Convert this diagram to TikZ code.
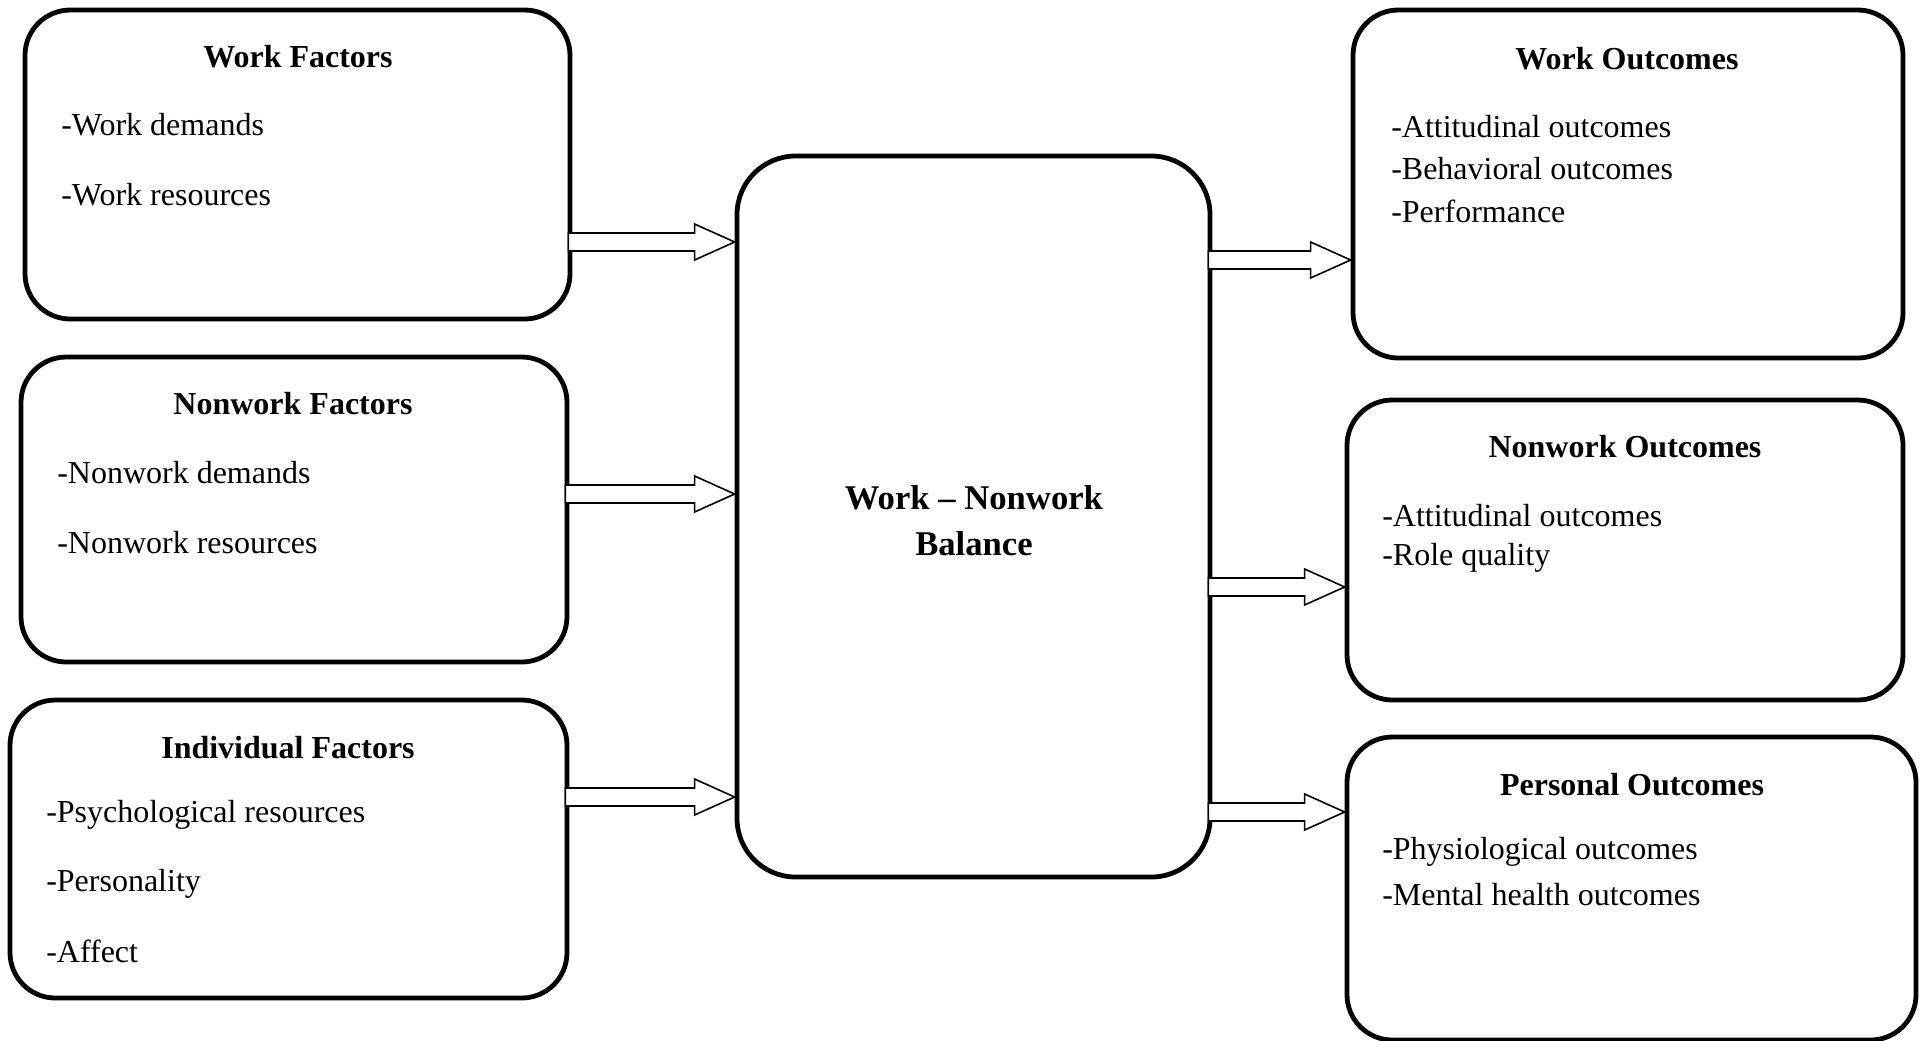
\documentclass[tikz,border=0pt]{standalone}
\usepackage{fontspec}
\setmainfont{Liberation Serif}
\usepackage{tikz}
\usetikzlibrary{calc, positioning}

\tikzset{
  factorbox/.style={draw, line width=3.6pt, rounded corners=34pt, fill=white},
  title/.style={font=\fontsize{24}{28}\selectfont\bfseries},
  item/.style={font=\fontsize{24}{28}\selectfont, anchor=west, inner sep=0pt},
  flow/.style={draw, line width=1.2pt, fill=white, line join=miter}
}

% hollow block arrow from box #1 to box #2 at height of coordinate #3
\newcommand{\flowarrow}[3]{%
  \draw[flow] let \p1=(#1.east |- #3), \p2=(#2.west |- #3) in
    (\x1-3pt,\y1+6.75pt) -- (\x2-30pt,\y1+6.75pt) -- (\x2-30pt,\y1+13.5pt) -- (\x2,\y1)
    -- (\x2-30pt,\y1-13.5pt) -- (\x2-30pt,\y1-6.75pt) -- (\x1-3pt,\y1-6.75pt) -- cycle;}

\begin{document}
\begin{tikzpicture}[x=0.75pt,y=-0.75pt]
   \useasboundingbox (0,0) rectangle (1923,1040);
   % factors
   \node[factorbox, minimum width=408.75pt, minimum height=231.75pt] (wf) at (297.5,164.5) {};
   \node[factorbox, minimum width=409.5pt, minimum height=228.75pt] (nf) at (294,509.5) {};
   \node[factorbox, minimum width=417.75pt, minimum height=223.5pt] (if) at (288.5,849) {};
   % balance
   \node[factorbox, rounded corners=44pt, minimum width=354.75pt, minimum height=540.75pt] (bal) at (973.5,516.5) {};
   % outcomes
   \node[factorbox, minimum width=412.5pt, minimum height=261pt] (wo) at (1628,184) {};
   \node[factorbox, minimum width=417pt, minimum height=225pt] (no) at (1625,550) {};
   \node[factorbox, minimum width=426.75pt, minimum height=227.25pt] (po) at (1631.5,888.5) {};

   \node[title] (wf_t) at (298,57) {Work Factors};
   \node[item] (wf_1) at (61,125) {-Work demands};
   \node[item] (wf_2) at (61,195) {-Work resources};

   \node[title] (nf_t) at (293,404) {Nonwork Factors};
   \node[item] (nf_1) at (57,473) {-Nonwork demands};
   \node[item] (nf_2) at (57,543) {-Nonwork resources};

   \node[title] (if_t) at (288,748) {Individual Factors};
   \node[item] (if_1) at (46,815) {-Psychological resources};
   \node[item] (if_2) at (46,884) {-Personality};
   \node[item] (if_3) at (46,951) {-Affect};

   \node[title, font=\fontsize{26}{34.5}\selectfont\bfseries, align=center] (bal_t) at (974,521) {Work -- Nonwork\\Balance};

   \node[title] (wo_t) at (1627,59) {Work Outcomes};
   \node[item] (wo_1) at (1391,127) {-Attitudinal outcomes};
   \node[item] (wo_2) at (1391,169) {-Behavioral outcomes};
   \node[item] (wo_3) at (1391,211) {-Performance};

   \node[title] (no_t) at (1625,447) {Nonwork Outcomes};
   \node[item] (no_1) at (1382,516) {-Attitudinal outcomes};
   \node[item] (no_2) at (1382,558) {-Role quality};

   \node[title] (po_t) at (1632,785) {Personal Outcomes};
   \node[item] (po_1) at (1382,852) {-Physiological outcomes};
   \node[item] (po_2) at (1382,895) {-Mental health outcomes};

   % arrow heights
   \coordinate (l1) at (0,242);
   \coordinate (l2) at (0,494);
   \coordinate (l3) at (0,797);
   \coordinate (r1) at (0,260);
   \coordinate (r2) at (0,587);
   \coordinate (r3) at (0,812);
   \flowarrow{wf}{bal}{l1}
   \flowarrow{nf}{bal}{l2}
   \flowarrow{if}{bal}{l3}
   \flowarrow{bal}{wo}{r1}
   \flowarrow{bal}{no}{r2}
   \flowarrow{bal}{po}{r3}
\end{tikzpicture}
\end{document}
